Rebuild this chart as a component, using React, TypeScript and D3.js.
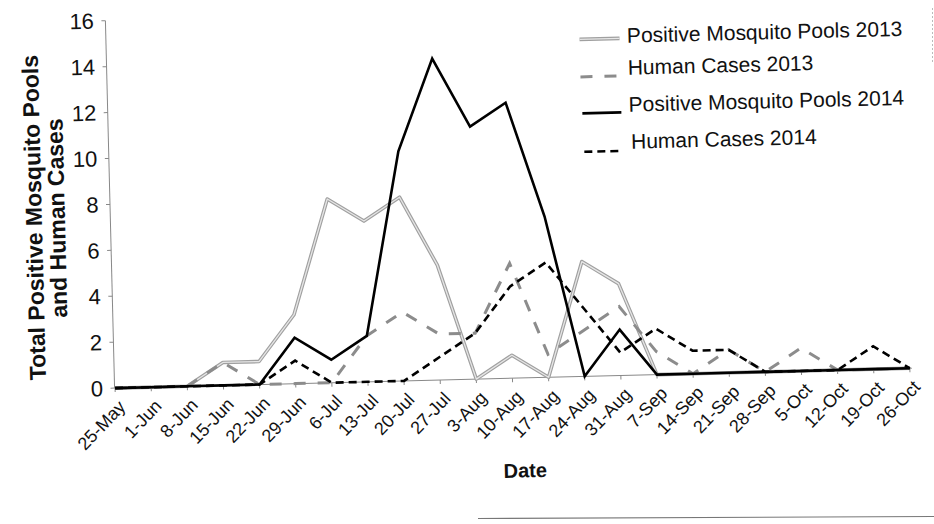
import React from 'react';
import * as d3 from 'd3';

const dates = ['25-May','1-Jun','8-Jun','15-Jun','22-Jun','29-Jun','6-Jul','13-Jul','20-Jul','27-Jul','3-Aug','10-Aug','17-Aug','24-Aug','31-Aug','7-Sep','14-Sep','21-Sep','28-Sep','5-Oct','12-Oct','19-Oct','26-Oct'];
const pools2013 = [0,0,0,1,1,3,8,7,8,5,0,1,0,5,4,0,0,0,0,0,0,0,0];
const human2013 = [0,0,0,1,0,0,0,2,3,2,2,5,1,2,3,1,0,1,0,1,0,0,0];
const pools2014 = [0,0,0,0,0,2,1,2,10,14,11,12,7,0,2,0,0,0,0,0,0,0,0];
const human2014 = [0,0,0,0,0,1,0,0,0,1,2,4,5,3,1,2,1,1,0,0,0,1,0];
const yTicks = [0,2,4,6,8,10,12,14,16];
const legendLabels = ['Positive Mosquito Pools 2013','Human Cases 2013','Positive Mosquito Pools 2014','Human Cases 2014'];

const FONT = '"Liberation Sans", Arial, Helvetica, sans-serif';

export default function App() {
  const W = 934, H = 524;
  const x = d3.scalePoint<string>().domain(dates).range([115, 910]);
  const y = d3.scaleLinear().domain([0, 16]).range([378.5, 11]);
  const line = d3.line<number>().x((_, i) => x(dates[i]) as number).y(d => y(d));

  const legendBase = [46, 78, 115, 152];
  const legendLineY = [41.5, 79, 115.5, 154];

  return (
    <svg width={W} height={H} style={{ position: 'absolute', left: 0, top: 0, background: '#fff' }} fontFamily={FONT}>
      <rect x={0} y={0} width={W} height={H} fill="#fff" />
      <g transform="rotate(-1.43, 500, 380)">
        {/* axes */}
        <line x1={114.5} x2={114.5} y1={y(16)} y2={y(0)} stroke="#888" strokeWidth={1} />
        <line x1={114.5} x2={912} y1={y(0)} y2={y(0)} stroke="#888" strokeWidth={1} />
        {yTicks.map(t => (
          <g key={t}>
            <line x1={110.5} x2={114.5} y1={y(t)} y2={y(t)} stroke="#888" strokeWidth={1} />
            <text x={103} y={y(t)} dy="0.35em" textAnchor="end" fontSize={22} fill="#111">{t}</text>
          </g>
        ))}
        {dates.map(d => (
          <g key={d}>
            <line x1={x(d)} x2={x(d)} y1={y(0)} y2={y(0) + 4} stroke="#888" strokeWidth={1} />
            <text transform={`translate(${(x(d) as number) + 11},${y(0) + 20}) rotate(-45)`} textAnchor="end" fontSize={18} fill="#111">{d}</text>
          </g>
        ))}
        {/* axis titles */}
        <g transform="translate(38,206) rotate(-90)">
          <text textAnchor="middle" dy="0.35em" fontSize={23} fontWeight="bold" fill="#111">Total Positive Mosquito Pools</text>
        </g>
        <g transform="translate(61,207) rotate(-90)">
          <text textAnchor="middle" dy="0.35em" fontSize={23} fontWeight="bold" fill="#111">and Human Cases</text>
        </g>
        <text x={523} y={478} textAnchor="middle" fontSize={20} fontWeight="bold" fill="#111">Date</text>

        {/* series */}
        <path d={line(pools2013) || ''} fill="none" stroke="#a0a0a0" strokeWidth={3.6} strokeLinejoin="round" />
        <path d={line(pools2013) || ''} fill="none" stroke="#e6e6e6" strokeWidth={1.3} strokeLinejoin="round" />
        <path d={line(human2013) || ''} fill="none" stroke="#8c8c8c" strokeWidth={3} strokeDasharray="12,12" />
        <path d={line(pools2014) || ''} fill="none" stroke="#000" strokeWidth={2.6} strokeLinejoin="miter" />
        <path d={line(human2014) || ''} fill="none" stroke="#000" strokeWidth={2.6} strokeDasharray="8,5" />

        {/* legend */}
        <g>
          <line x1={588} x2={628} y1={legendLineY[0]} y2={legendLineY[0]} stroke="#a0a0a0" strokeWidth={3.6} />
          <line x1={588} x2={628} y1={legendLineY[0]} y2={legendLineY[0]} stroke="#e6e6e6" strokeWidth={1.3} />
          <line x1={588} x2={628} y1={legendLineY[1]} y2={legendLineY[1]} stroke="#8c8c8c" strokeWidth={3} strokeDasharray="12,12" />
          <line x1={589} x2={628} y1={legendLineY[2]} y2={legendLineY[2]} stroke="#000" strokeWidth={2.6} />
          <line x1={590} x2={628} y1={legendLineY[3]} y2={legendLineY[3]} stroke="#000" strokeWidth={2.6} strokeDasharray="8,5" />
          {legendLabels.map((l, i) => (
            <text key={l} x={i === 3 ? 637 : 635.5} y={legendBase[i]} fontSize={21} fill="#111">{l}</text>
          ))}
        </g>
      </g>
      {/* scan edge artifacts */}
      <line x1={478} x2={934} y1={518.5} y2={516.5} stroke="#777" strokeWidth={1.2} />
      <line x1={932.5} x2={932.5} y1={8} y2={62} stroke="#bbb" strokeWidth={1} strokeDasharray="2,2" />
    </svg>
  );
}
